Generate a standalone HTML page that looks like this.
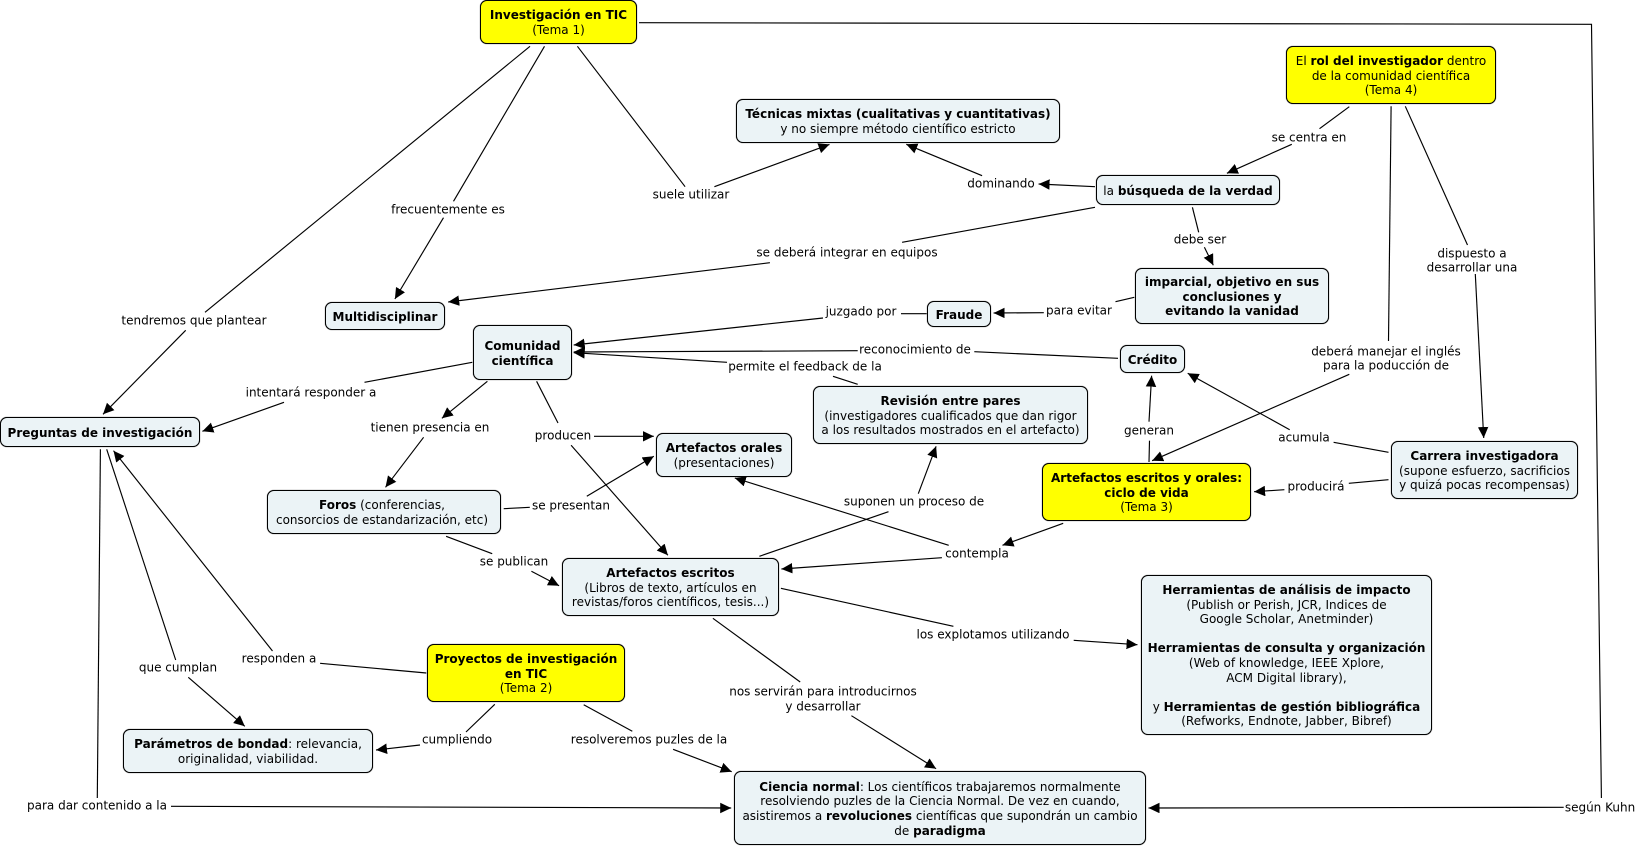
<!DOCTYPE html>
<html><head><meta charset="utf-8"><style>
html,body{margin:0;padding:0;background:#fff}
#c{position:relative;width:1640px;height:846px;overflow:hidden;font:12px/14.6px "DejaVu Sans","Liberation Sans",sans-serif;color:#000}
svg{position:absolute;left:0;top:0}
.n{position:absolute;box-sizing:border-box;border:1px solid #000;border-radius:7px;background:#ebf3f6;box-shadow:0 0 .7px #000;display:flex;align-items:center;justify-content:center;text-align:center;white-space:nowrap}
.n>div{position:relative;top:1px}
.y{background:#ff0}
.l{position:absolute;transform:translate(-50%,-50%);white-space:nowrap;text-align:center;margin-top:1px}
</style></head><body><div id="c">
<svg width="1640" height="846" fill="none" stroke="#000" stroke-width="1.15">
<defs><marker id="a" markerUnits="userSpaceOnUse" markerWidth="12" markerHeight="11" refX="11" refY="5.25" orient="auto"><path d="M0,0L11,5.25L0,10.5z" fill="#000" stroke="none"/></marker></defs>
<g>
<path d="M530,46.3L205,312.3"/><path d="M544.5,46.3L453.5,201.3"/><path d="M577.4,46.3L685.1,186.7"/>
<path d="M639,22.7L1591.5,24.3L1601.4,798"/>
<path d="M1095,207.3L902.1,242.3"/><path d="M1349.3,106.7L1319.5,128.7"/><path d="M1192.4,207.3L1198.7,232.3"/>
<path d="M1134.3,297.3L1115.5,301.7"/><path d="M926.7,313.7L901,313.7"/><path d="M1118,358.3L974.3,351.7"/><path d="M857.7,384.3L833,376.3"/>
<path d="M472.3,362.3L364.5,382.3"/><path d="M536.6,381.3L558,423"/><path d="M503.7,508.7L529.8,507.3"/><path d="M446.1,536.3L492.2,553.7"/>
<path d="M759.4,556.3L888.5,511.7"/><path d="M1149,462L1149.5,440.7"/><path d="M1391.1,106.3L1388.5,341"/><path d="M1405.3,106.3L1467.5,245"/>
<path d="M1388.5,452.3L1333.6,442.3"/><path d="M1388.5,479.7L1348.8,483.3"/><path d="M780.9,588.3L953.4,626.3"/><path d="M712.9,618.3L800.2,682"/>
<path d="M583.7,704.7L632.3,731.3"/><path d="M494.8,704.3L466,732"/><path d="M426.3,673L320.1,663.3"/><path d="M106.7,449.3L175.7,660"/><path d="M100.4,449.3L97.3,798"/>
</g>
<g>
<path d="M185.7,330.3L103,414.3" marker-end="url(#a)"/>
<path d="M443.5,217.7L394.9,299" marker-end="url(#a)"/>
<path d="M714.4,186.7L829.5,144.4" marker-end="url(#a)"/>
<path d="M1563.7,807.3L1148.5,808" marker-end="url(#a)"/>
<path d="M769.9,262.7L448.2,302" marker-end="url(#a)"/>
<path d="M1095,186.7L1038.6,184" marker-end="url(#a)"/>
<path d="M982.1,175.7L906.3,144.3" marker-end="url(#a)"/>
<path d="M1291.8,144.3L1226.9,173.3" marker-end="url(#a)"/>
<path d="M1204.4,247.3L1213.3,265.3" marker-end="url(#a)"/>
<path d="M1043.8,312.7L993.6,313" marker-end="url(#a)"/>
<path d="M823,318L573.7,345" marker-end="url(#a)"/>
<path d="M857.7,350.7L573.7,352" marker-end="url(#a)"/>
<path d="M727,362.3L573.7,352.7" marker-end="url(#a)"/>
<path d="M284,402.3L202.4,431.3" marker-end="url(#a)"/>
<path d="M487.4,381.3L441.9,418.3" marker-end="url(#a)"/>
<path d="M423.6,437.3L385.5,487.3" marker-end="url(#a)"/>
<path d="M594,436.3L653.8,436.3" marker-end="url(#a)"/>
<path d="M571.1,445.3L667.9,555.3" marker-end="url(#a)"/>
<path d="M586.8,496.3L653.8,456.3" marker-end="url(#a)"/>
<path d="M531.4,571.3L559.1,585.7" marker-end="url(#a)"/>
<path d="M1063.2,523.3L1002.5,545.3" marker-end="url(#a)"/>
<path d="M948.7,545.3L734.8,478" marker-end="url(#a)"/>
<path d="M941.9,557.7L781.4,569" marker-end="url(#a)"/>
<path d="M918.3,493.7L936.1,446.3" marker-end="url(#a)"/>
<path d="M1149,421.7L1151.6,375.7" marker-end="url(#a)"/>
<path d="M1349.3,374.3L1152.1,460.7" marker-end="url(#a)"/>
<path d="M1475.3,274L1483.7,438" marker-end="url(#a)"/>
<path d="M1289.7,429.7L1187.7,373.3" marker-end="url(#a)"/>
<path d="M1284.4,489.7L1254.1,491.7" marker-end="url(#a)"/>
<path d="M1073.7,640.3L1137.5,644.7" marker-end="url(#a)"/>
<path d="M851.4,715.7L936.1,768.7" marker-end="url(#a)"/>
<path d="M673.1,749.3L731.7,771.7" marker-end="url(#a)"/>
<path d="M420,745L376,750" marker-end="url(#a)"/>
<path d="M272.5,651L113.5,450.7" marker-end="url(#a)"/>
<path d="M188.3,677.3L244.8,726.3" marker-end="url(#a)"/>
<path d="M171,806.3L731.2,808" marker-end="url(#a)"/>
</g>
</svg>

<div class="n y" style="left:480px;top:0;width:157px;height:44px"><div><b>Investigación en TIC</b><br>(Tema 1)</div></div>
<div class="n" style="left:736px;top:99px;width:324px;height:44px"><div><b>Técnicas mixtas (cualitativas y cuantitativas)</b><br>y no siempre método científico estricto</div></div>
<div class="n y" style="left:1286px;top:46px;width:210px;height:58px"><div>El <b>rol del investigador</b> dentro<br>de la comunidad científica<br>(Tema 4)</div></div>
<div class="n" style="left:1096px;top:175px;width:184px;height:30px"><div>la <b>búsqueda de la verdad</b></div></div>
<div class="n" style="left:1135px;top:268px;width:194px;height:56px"><div><b>imparcial, objetivo en sus<br>conclusiones y<br>evitando la vanidad</b></div></div>
<div class="n" style="left:927px;top:301px;width:64px;height:26px"><div><b>Fraude</b></div></div>
<div class="n" style="left:325px;top:302px;width:120px;height:28px"><div><b>Multidisciplinar</b></div></div>
<div class="n" style="left:473px;top:325px;width:99px;height:55px"><div><b>Comunidad<br>científica</b></div></div>
<div class="n" style="left:1120px;top:345px;width:65px;height:28px"><div><b>Crédito</b></div></div>
<div class="n" style="left:813px;top:386px;width:275px;height:58px"><div><b>Revisión entre pares</b><br>(investigadores cualificados que dan rigor<br>a los resultados mostrados en el artefacto)</div></div>
<div class="n" style="left:0;top:417px;width:200px;height:30px"><div><b>Preguntas de investigación</b></div></div>
<div class="n" style="left:656px;top:433px;width:136px;height:44px"><div><b>Artefactos orales</b><br>(presentaciones)</div></div>
<div class="n" style="left:267px;top:490px;width:234px;height:44px"><div style="left:-2px"><b>Foros</b> (conferencias,<br>consorcios de estandarización, etc)</div></div>
<div class="n y" style="left:1042px;top:463px;width:209px;height:58px"><div><b>Artefactos escritos y orales:<br>ciclo de vida</b><br>(Tema 3)</div></div>
<div class="n" style="left:1391px;top:441px;width:187px;height:58px"><div><b>Carrera investigadora</b><br>(supone esfuerzo, sacrificios<br>y quizá pocas recompensas)</div></div>
<div class="n" style="left:562px;top:558px;width:217px;height:58px"><div><b>Artefactos escritos</b><br>(Libros de texto, artículos en<br>revistas/foros científicos, tesis...)</div></div>
<div class="n" style="left:1141px;top:575px;width:291px;height:160px"><div><b>Herramientas de análisis de impacto</b><br>(Publish or Perish, JCR, Indices de<br>Google Scholar, Anetminder)<br><br><b>Herramientas de consulta y organización</b><br>(Web of knowledge, IEEE Xplore,<br>ACM Digital library),<br><br>y <b>Herramientas de gestión bibliográfica</b><br>(Refworks, Endnote, Jabber, Bibref)</div></div>
<div class="n y" style="left:427px;top:644px;width:198px;height:58px"><div><b>Proyectos de investigación<br>en TIC</b><br>(Tema 2)</div></div>
<div class="n" style="left:123px;top:729px;width:250px;height:44px"><div><b>Parámetros de bondad</b>: relevancia,<br>originalidad, viabilidad.</div></div>
<div class="n" style="left:734px;top:771px;width:412px;height:74px"><div><b>Ciencia normal</b>: Los científicos trabajaremos normalmente<br>resolviendo puzles de la Ciencia Normal. De vez en cuando,<br>asistiremos a <b>revoluciones</b> científicas que supondrán un cambio<br>de <b>paradigma</b></div></div>

<div class="l" style="left:194px;top:320px">tendremos que plantear</div>
<div class="l" style="left:448px;top:209px">frecuentemente es</div>
<div class="l" style="left:691px;top:194px">suele utilizar</div>
<div class="l" style="left:847px;top:251.5px">se deberá integrar en equipos</div>
<div class="l" style="left:1001px;top:183px">dominando</div>
<div class="l" style="left:1309px;top:136.5px">se centra en</div>
<div class="l" style="left:1200px;top:239px">debe ser</div>
<div class="l" style="left:1079px;top:309.5px">para evitar</div>
<div class="l" style="left:861px;top:311px">juzgado por</div>
<div class="l" style="left:915px;top:349px">reconocimiento de</div>
<div class="l" style="left:805px;top:366px">permite el feedback de la</div>
<div class="l" style="left:311px;top:391.5px">intentará responder a</div>
<div class="l" style="left:430px;top:427px">tienen presencia en</div>
<div class="l" style="left:563px;top:435px">producen</div>
<div class="l" style="left:571px;top:504.5px">se presentan</div>
<div class="l" style="left:514px;top:561px">se publican</div>
<div class="l" style="left:977px;top:553px">contempla</div>
<div class="l" style="left:914px;top:501px">suponen un proceso de</div>
<div class="l" style="left:1149px;top:429.5px">generan</div>
<div class="l" style="left:1386px;top:357.5px">deberá manejar el inglés<br>para la poducción de</div>
<div class="l" style="left:1472px;top:259.5px">dispuesto a<br>desarrollar una</div>
<div class="l" style="left:1304px;top:437px">acumula</div>
<div class="l" style="left:1316px;top:486px">producirá</div>
<div class="l" style="left:993px;top:634px">los explotamos utilizando</div>
<div class="l" style="left:823px;top:698px">nos servirán para introducirnos<br>y desarrollar</div>
<div class="l" style="left:649px;top:739px">resolveremos puzles de la</div>
<div class="l" style="left:457px;top:739px">cumpliendo</div>
<div class="l" style="left:279px;top:658px">responden a</div>
<div class="l" style="left:178px;top:667px">que cumplan</div>
<div class="l" style="left:97px;top:805px">para dar contenido a la</div>
<div class="l" style="left:1600px;top:807px">según Kuhn</div>
</div></body></html>
